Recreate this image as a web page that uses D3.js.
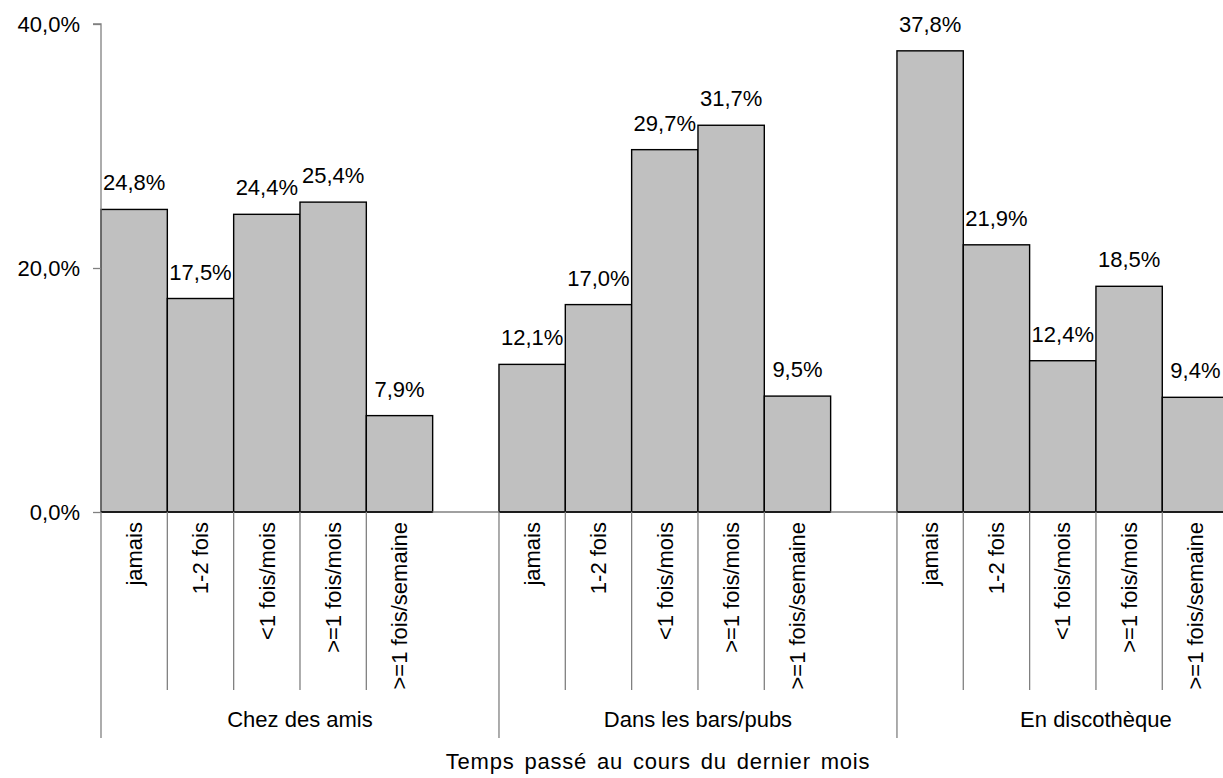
<!DOCTYPE html>
<html>
<head>
<meta charset="utf-8">
<script src="https://cdn.jsdelivr.net/npm/d3@7"></script>
<style>
  html, body { margin: 0; padding: 0; background: #fff; overflow: hidden; }
  svg { display: block; font-family: "Liberation Sans", Arial, sans-serif; }
</style>
</head>
<body>
<svg id="chart" width="1223" height="778"></svg>
<script>
const groups = ["Chez des amis", "Dans les bars/pubs", "En discothèque"];
const subcats = ["jamais", "1-2 fois", "<1 fois/mois", ">=1 fois/mois", ">=1 fois/semaine"];
const valsAmis = [24.8, 17.5, 24.4, 25.4, 7.9];
const valsBars = [12.1, 17.0, 29.7, 31.7, 9.5];
const valsDisco = [37.8, 21.9, 12.4, 18.5, 9.4];
const yTicks = [0, 20, 40];
const xTitle = "Temps passé au cours du dernier mois";

const series = [valsAmis, valsBars, valsDisco];
const slotsPerGroup = subcats.length + 1;

const data = [];
series.forEach((vals, g) => vals.forEach((v, i) => data.push({ g, i, v, slot: g * slotsPerGroup + i })));

const svg = d3.select("#chart");
const left = 101, slotW = 66.33;
const x = d3.scaleLinear().domain([0, groups.length * slotsPerGroup]).range([left, left + groups.length * slotsPerGroup * slotW]);
const y = d3.scaleLinear().domain([0, 40]).range([512, 24]);
const fmt = v => v.toFixed(1).replace(".", ",") + "%";
const FS = 22;
const gray = "#808080";

// bars
svg.append("g").selectAll("rect").data(data).join("rect")
  .attr("x", d => x(d.slot)).attr("y", d => y(d.v))
  .attr("width", x(1) - x(0)).attr("height", d => y(0) - y(d.v))
  .attr("fill", "#c0c0c0").attr("stroke", "#000").attr("stroke-width", 1.4);

// value labels
svg.append("g").selectAll("text").data(data).join("text")
  .attr("x", d => x(d.slot + 0.5)).attr("y", d => y(d.v) - 19)
  .attr("text-anchor", "middle").attr("font-size", FS).attr("fill", "#000")
  .text(d => fmt(d.v));

// y axis
const yAxis = d3.axisLeft(y).tickValues(yTicks).tickSize(8).tickPadding(13).tickFormat(d => d.toFixed(1).replace(".", ",") + "%");
const ya = svg.append("g").attr("transform", `translate(${left},0)`).call(yAxis);
ya.select(".domain").attr("stroke", gray).attr("stroke-width", 1.3).attr("d", `M-8,${y(40)}H0V${y(0)}`);
ya.selectAll(".tick line").attr("stroke", gray).attr("stroke-width", 1.3);
ya.selectAll(".tick text").attr("font-size", FS).attr("fill", "#000").attr("font-family", "Liberation Sans, Arial, sans-serif");

// baseline
svg.append("line").attr("x1", left).attr("x2", 1223).attr("y1", y(0)).attr("y2", y(0))
  .attr("stroke", gray).attr("stroke-width", 1.3);
// baseline under bars in black
svg.append("g").selectAll("line").data(data).join("line")
  .attr("x1", d => x(d.slot)).attr("x2", d => x(d.slot + 1)).attr("y1", y(0)).attr("y2", y(0))
  .attr("stroke", "#000").attr("stroke-width", 1.6);

// separators
const sep = svg.append("g").attr("stroke", gray).attr("stroke-width", 1.3);
for (let g = 0; g <= groups.length; g++) {
  for (let i = 0; i < subcats.length; i++) {
    const s = g * slotsPerGroup + i;
    sep.append("line").attr("x1", x(s)).attr("x2", x(s)).attr("y1", y(0)).attr("y2", i === 0 ? 738 : 690);
  }
}

// subcategory labels (rotated)
svg.append("g").selectAll("text").data(data).join("text")
  .attr("transform", d => `translate(${x(d.slot + 0.5)},522) rotate(-90)`)
  .attr("text-anchor", "end").attr("dy", "0.35em")
  .attr("font-size", 22).attr("fill", "#000")
  .text(d => subcats[d.i]);

// group labels
svg.append("g").selectAll("text").data(groups).join("text")
  .attr("x", (d, g) => x(g * slotsPerGroup + slotsPerGroup / 2)).attr("y", 727)
  .attr("text-anchor", "middle").attr("font-size", FS).attr("fill", "#000")
  .text(d => d);

// axis title
svg.append("text").attr("x", 658).attr("y", 769).attr("text-anchor", "middle")
  .attr("font-size", FS).attr("fill", "#000").attr("letter-spacing", 0.8).attr("word-spacing", 3).text(xTitle);
</script>
</body>
</html>
